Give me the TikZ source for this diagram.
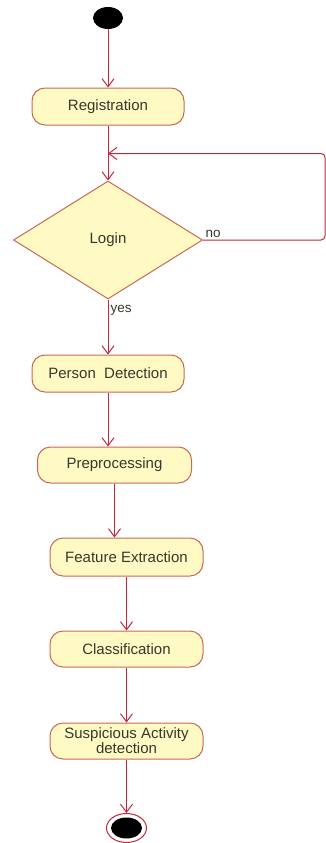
\documentclass[tikz,border=0pt]{standalone}
\usepackage{fontspec}
\setmainfont{Liberation Sans}
\usetikzlibrary{arrows.meta,shapes.geometric}

\definecolor{flowred}{RGB}{196,40,60}
\definecolor{boxline}{RGB}{200,105,85}
\definecolor{boxfill}{RGB}{255,250,196}
\definecolor{ink}{RGB}{55,55,45}

\tikzset{
  activity/.style={draw=boxline,fill=boxfill,line width=1pt,rounded corners=13pt,
    minimum width=153pt,minimum height=37pt,align=center,inner sep=1pt},
  decision/.style={diamond,draw=boxline,fill=boxfill,line width=1pt,
    minimum width=189pt,minimum height=118pt,inner sep=0pt},
  flow/.style={draw=flowred,line width=1pt,-{Straight Barb[length=8pt,width=12pt]}},
  guard/.style={font=\fontsize{13.5}{14}\selectfont,text=ink,inner sep=2pt}
}

\begin{document}
\begin{tikzpicture}[x=1pt,y=-1pt,font=\fontsize{15}{16}\selectfont,text=ink]
  \useasboundingbox (0,0) rectangle (326,843);
  % start / end
  \node[ellipse,fill=black,minimum width=30pt,minimum height=22pt,inner sep=0pt] (start) at (108,18) {};
  \node[ellipse,draw=flowred,line width=1pt,fill=white,minimum width=40pt,minimum height=29pt,inner sep=0pt] (stop) at (126.5,828) {};
  \fill (stop.center) ellipse (15.5pt and 10.5pt);
  % activities
  \node[activity,minimum width=152pt] (reg) at (108,106.5) {Registration};
  \node[decision] (login) at (108,240) {Login};
  \node[activity,minimum width=152pt] (person) at (108,373.5) {Person\ \ Detection};
  \node[activity,minimum width=154pt,minimum height=36pt] (prep) at (114.5,465) {Preprocessing};
  \node[activity,minimum height=38pt] (feat) at (126.5,557) {Feature Extraction};
  \node[activity,minimum height=36pt] (cls) at (126.5,649) {Classification};
  \node[activity,minimum height=36pt,font=\fontsize{15}{13}\selectfont] (susp) at (126.5,741) {Suspicious Activity\\detection};
  % loop back on failed login
  \coordinate (back) at (108,153.5);
  \coordinate (loopc) at (325,153.5);
  % flows
  \draw[flow] (start) -- (reg);
  \draw[flow] (reg) -- (login);
  \draw[flow,rounded corners=4pt] (login.east) node[guard,above right] {no} -| (loopc) -- (back);
  \draw[flow] (login) -- (person) node[guard,pos=.2,right] {yes};
  \draw[flow] (person.south) -- (person.south |- prep.north);
  \draw[flow] (prep.south) -- (prep.south |- feat.north);
  \draw[flow] (feat) -- (cls);
  \draw[flow] (cls) -- (susp);
  \draw[flow] (susp) -- (stop);
\end{tikzpicture}
\end{document}
